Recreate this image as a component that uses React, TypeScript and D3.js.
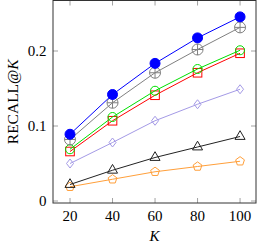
import React from "react";
import * as d3 from "d3";

const ks = [20, 40, 60, 80, 100];
const blueFilled = [0.089, 0.142, 0.1835, 0.2175, 0.2455];
const grayOplus = [0.082, 0.131, 0.171, 0.202, 0.2315];
const greenCircle = [0.069, 0.112, 0.147, 0.176, 0.201];
const redSquare = [0.066, 0.107, 0.141, 0.171, 0.197];
const purpleDiamond = [0.050, 0.078, 0.107, 0.129, 0.149];
const blackTriangle = [0.022, 0.041, 0.058, 0.072, 0.086];
const orangePentagon = [0.019, 0.029, 0.039, 0.046, 0.053];
const yTicks = [0, 0.1, 0.2];
const yTickLabels = ["0", "0.1", "0.2"];

const series = [
  { values: orangePentagon, color: "#ff9f3a", marker: "pentagon" },
  { values: blackTriangle, color: "#222222", marker: "triangle" },
  { values: purpleDiamond, color: "#a49ae6", marker: "diamond" },
  { values: redSquare, color: "#ff0000", marker: "square" },
  { values: greenCircle, color: "#00e000", marker: "circle" },
  { values: grayOplus, color: "#808080", marker: "oplus" },
  { values: blueFilled, color: "#0000ff", marker: "filled" },
];

const W = 257;
const H = 247;
const left = 53;
const right = 256;
const top = 0.5;
const bottom = 203;

function Marker({ type, x, y, color }: { type: string; x: number; y: number; color: string }) {
  const sw = 1;
  switch (type) {
    case "filled":
      return <circle cx={x} cy={y} r={5} fill={color} stroke={color} strokeWidth={sw} />;
    case "oplus":
      return (
        <g stroke={color} strokeWidth={sw} fill="none">
          <circle cx={x} cy={y} r={5.5} />
          <line x1={x - 5.5} x2={x + 5.5} y1={y} y2={y} />
          <line x1={x} x2={x} y1={y - 5.5} y2={y + 5.5} />
        </g>
      );
    case "circle":
      return <circle cx={x} cy={y} r={4.5} fill="none" stroke={color} strokeWidth={sw} />;
    case "square":
      return <rect x={x - 4.3} y={y - 4.3} width={8.6} height={8.6} fill="none" stroke={color} strokeWidth={sw} />;
    case "diamond": {
      const pts = [[x, y - 4.5], [x + 3.5, y], [x, y + 4.5], [x - 3.5, y]];
      return <polygon points={pts.map((p) => p.join(",")).join(" ")} fill="none" stroke={color} strokeWidth={sw} />;
    }
    case "triangle": {
      const r = 5.8;
      const pts = [0, 1, 2].map((i) => {
        const a = -Math.PI / 2 + (i * 2 * Math.PI) / 3;
        return [x + r * Math.cos(a), y + r * Math.sin(a)];
      });
      return <polygon points={pts.map((p) => p.join(",")).join(" ")} fill="none" stroke={color} strokeWidth={sw} />;
    }
    case "pentagon": {
      const r = 4.6;
      const pts = [0, 1, 2, 3, 4].map((i) => {
        const a = -Math.PI / 2 + (i * 2 * Math.PI) / 5;
        return [x + r * Math.cos(a), y + r * Math.sin(a)];
      });
      return <polygon points={pts.map((p) => p.join(",")).join(" ")} fill="none" stroke={color} strokeWidth={sw} />;
    }
  }
  return null;
}

const textStyle: React.CSSProperties = {
  fontFamily: '"Liberation Serif", "DejaVu Serif", "Times New Roman", serif',
  fontSize: "15px",
};

export default function App() {
  const x = d3.scaleLinear().domain([12, 107.5]).range([left, right]);
  const y = d3.scaleLinear().domain([0, 0.2]).range([201, 51]);
  const line = d3
    .line<number>()
    .x((_, i) => x(ks[i]))
    .y((d) => y(d));
  const tl = 5;
  return (
    <svg
      width={W}
      height={H}
      style={{ position: "absolute", left: 0, top: 0, background: "#fff" }}
    >
      <g stroke="#8a8a8a" strokeWidth={0.8}>
        {ks.map((k) => (
          <g key={"xt" + k}>
            <line x1={x(k)} x2={x(k)} y1={bottom} y2={bottom - tl} />
            <line x1={x(k)} x2={x(k)} y1={top} y2={top + tl} />
          </g>
        ))}
        {yTicks.map((t) => (
          <g key={"yt" + t}>
            <line x1={left} x2={left + tl} y1={y(t)} y2={y(t)} />
            <line x1={right} x2={right - tl} y1={y(t)} y2={y(t)} />
          </g>
        ))}
      </g>
      {series.map((s, si) => (
        <g key={si}>
          <path d={line(s.values) || ""} fill="none" stroke={s.color} strokeWidth={1} />
          {s.values.map((v, i) => (
            <Marker key={i} type={s.marker} x={x(ks[i])} y={y(v)} color={s.color} />
          ))}
        </g>
      ))}
      <rect x={left} y={top} width={right - left} height={bottom - top} fill="none" stroke="#333" strokeWidth={1} />
      {ks.map((k) => (
        <text key={"xl" + k} x={x(k)} y={221} textAnchor="middle" style={textStyle}>
          {k}
        </text>
      ))}
      {yTicks.map((t, i) => (
        <text key={"yl" + t} x={46.5} y={y(t) + 5} textAnchor="end" style={textStyle}>
          {yTickLabels[i]}
        </text>
      ))}
      <text x={(left + right) / 2} y={241} textAnchor="middle" style={{ ...textStyle, fontStyle: "italic" }}>
        K
      </text>
      <text
        transform={`translate(18, ${(top + bottom) / 2}) rotate(-90)`}
        textAnchor="middle"
        style={{ ...textStyle, fontSize: "15.5px" }}
      >
        RECALL@<tspan style={{ fontStyle: "italic" }}>K</tspan>
      </text>
    </svg>
  );
}
